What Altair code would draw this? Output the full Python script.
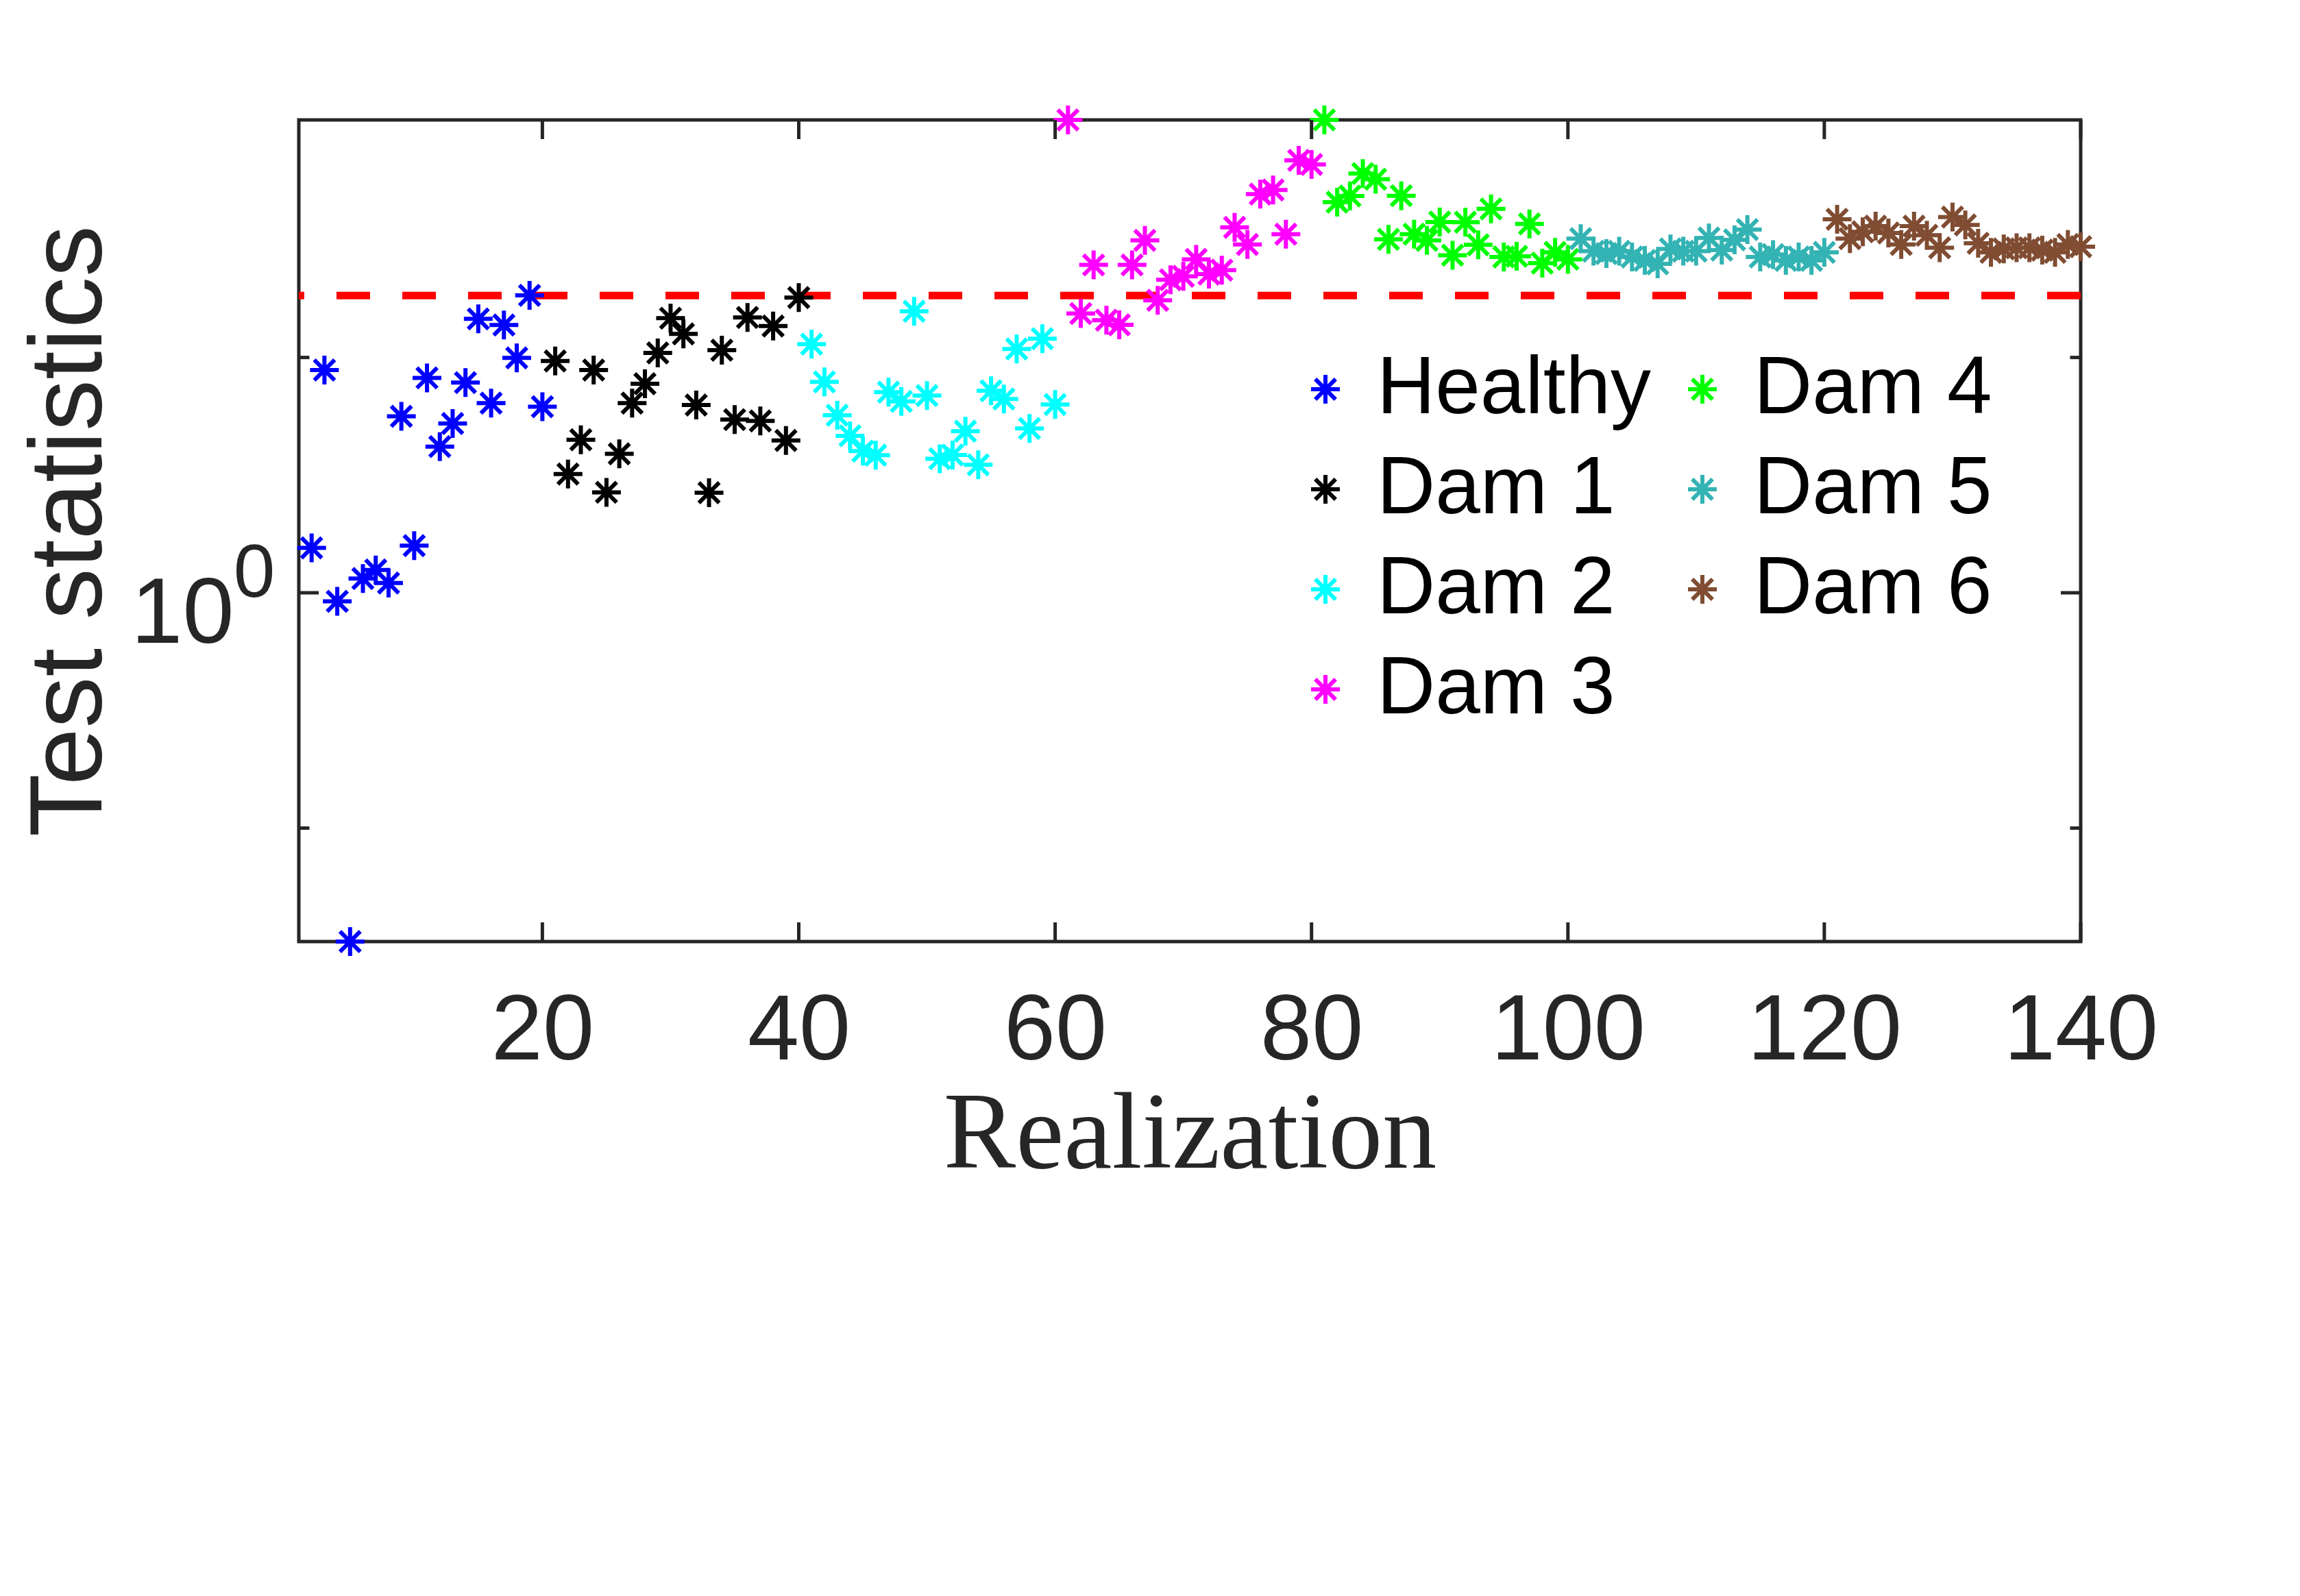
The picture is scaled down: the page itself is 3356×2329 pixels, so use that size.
import altair as alt
import pandas as pd

# ---------------- data ----------------
groups = ["Healthy", "Dam 1", "Dam 2", "Dam 3", "Dam 4", "Dam 5", "Dam 6"]
colors = ["#0000FF", "#000000", "#00FFFF", "#FF00FF", "#00FF00", "#33B3B3", "#804D33"]
starts = [2, 21, 41, 61, 81, 101, 121]

healthy = [1.246, 2.974, 0.959, 0.1815, 1.072, 1.118, 1.049, 2.372, 1.259, 2.862,
           2.045, 2.289, 2.796, 3.819, 2.529, 3.707, 3.155, 4.286, 2.486]
dam1 = [3.109, 1.788, 2.114, 2.974, 1.635, 1.973, 2.529, 2.781, 3.233, 3.832,
        3.548, 2.506, 1.632, 3.278, 2.333, 3.846, 2.318, 3.689, 2.107, 4.238]
dam2 = [3.375, 2.806, 2.383, 2.156, 2.000, 1.960, 2.669, 2.551, 3.963, 2.625,
        1.927, 1.962, 2.204, 1.870, 2.686, 2.580, 3.296, 2.234, 3.466, 2.512]
dam3 = [10.11, 3.920, 4.973, 3.794, 3.710, 4.973, 5.610, 4.182, 4.624, 4.702,
        5.112, 4.755, 4.846, 5.979, 5.498, 7.033, 7.175, 5.781, 8.296, 8.130]
dam4 = [10.11, 6.761, 6.969, 7.777, 7.563, 5.636, 6.977, 5.781, 5.610, 6.135,
        5.216, 6.128, 5.486, 6.541, 5.170, 5.188, 6.080, 5.017, 5.288, 5.112]
dam5 = [5.655, 5.318, 5.259, 5.318, 5.170, 5.085, 5.000, 5.378, 5.318, 5.318,
        5.674, 5.348, 5.623, 5.912, 5.170, 5.230, 5.085, 5.170, 5.085, 5.288]
dam6 = [6.218, 5.655, 5.848, 6.014, 5.815, 5.498, 6.014, 5.750, 5.408, 6.287,
        6.048, 5.529, 5.288, 5.378, 5.408, 5.408, 5.348, 5.288, 5.498, 5.438]

threshold = [4.28]
x_ticks = [20, 40, 60, 80, 100, 120, 140]
y_major_ticks = [1.0]
y_minor_ticks = [10 ** -0.5, 10 ** 0.5]
sup_label = ["0"]

# ---------------- build tables ----------------
series = [healthy, dam1, dam2, dam3, dam4, dam5, dam6]
rows = []
for g, s0, vals in zip(groups, starts, series):
    for i, v in enumerate(vals):
        rows.append({"realization": s0 + i, "value": v, "group": g})
df = pd.DataFrame(rows)

all_vals = [v for s in series for v in s]
y_lo, y_hi = min(all_vals), max(all_vals)

W, H = 2600, 1199
TXT = "#262626"
ASTER = "M-1,0L1,0M0,-1L0,1M-0.7071,-0.7071L0.7071,0.7071M-0.7071,0.7071L0.7071,-0.7071"

xscale = alt.Scale(domain=[1, 140], nice=False, zero=False)
yscale = alt.Scale(type="log", domain=[y_lo, y_hi], nice=False)

xaxis = alt.Axis(values=x_ticks, title="Realization", ticks=False, tickSize=0,
                 domain=False, grid=False, labelFont="Liberation Sans",
                 labelFontSize=135, labelColor=TXT, labelBaseline="alphabetic",
                 labelPadding=171, labelFlush=False, labelOverlap=False, labelLimit=0,
                 titleFont="Liberation Serif", titleFontSize=158,
                 titleFontWeight="normal", titleColor=TXT,
                 titleBaseline="alphabetic", titleX=W / 2, titleY=329)
yaxis = alt.Axis(values=[10 ** -0.5, 1.0, 10 ** 0.5],
                 labelExpr="datum.value == 1 ? '10' : ''",
                 ticks=False, tickSize=0, domain=False, grid=False,
                 labelFont="Liberation Sans", labelFontSize=135, labelColor=TXT,
                 labelBaseline="alphabetic", labelOffset=72, labelPadding=95,
                 labelOverlap=False, labelLimit=0, title="Test statistics",
                 titleFont="Liberation Sans", titleFontSize=150,
                 titleFontWeight="normal", titleColor=TXT,
                 titleBaseline="alphabetic", titleAlign="center",
                 titleAngle=270, titleX=-289, titleY=H / 2)

points = alt.Chart(df).mark_point(
    shape=ASTER, size=1764, strokeWidth=6, filled=False, opacity=1
).encode(
    x=alt.X("realization:Q", scale=xscale, axis=xaxis),
    y=alt.Y("value:Q", scale=yscale, axis=yaxis),
    color=alt.Color("group:N",
                    scale=alt.Scale(domain=groups, range=colors),
                    legend=alt.Legend(title=None, orient="none", legendX=1439, legendY=334,
                                      columns=2, symbolType=ASTER, symbolSize=1764,
                                      symbolStrokeWidth=6, labelFont="Liberation Sans",
                                      labelFontSize=118, labelColor="#000000",
                                      labelOffset=16, rowPadding=28, columnPadding=15,
                                      padding=0, labelLimit=0)),
)

thr = alt.Chart(pd.DataFrame({"t": threshold})).mark_rule(
    color="#FF0000", strokeWidth=11, strokeDash=[49, 47]
).encode(y=alt.Y("t:Q", scale=yscale, axis=yaxis))

df_xt = pd.DataFrame({"xt": x_ticks})
tick_style = dict(color=TXT, strokeWidth=5)
xt_bottom = alt.Chart(df_xt).mark_rule(**tick_style).encode(
    x=alt.X("xt:Q", scale=xscale, axis=xaxis), y=alt.value(H), y2=alt.value(H - 28))
xt_top = alt.Chart(df_xt).mark_rule(**tick_style).encode(
    x=alt.X("xt:Q", scale=xscale, axis=xaxis), y=alt.value(0), y2=alt.value(28))

df_ymaj = pd.DataFrame({"ym": y_major_ticks})
df_ymin = pd.DataFrame({"yn": y_minor_ticks})
ymaj_l = alt.Chart(df_ymaj).mark_rule(**tick_style).encode(
    y=alt.Y("ym:Q", scale=yscale, axis=yaxis), x=alt.value(0), x2=alt.value(29))
ymaj_r = alt.Chart(df_ymaj).mark_rule(**tick_style).encode(
    y=alt.Y("ym:Q", scale=yscale, axis=yaxis), x=alt.value(W), x2=alt.value(W - 29))
ymin_l = alt.Chart(df_ymin).mark_rule(**tick_style).encode(
    y=alt.Y("yn:Q", scale=yscale, axis=yaxis), x=alt.value(0), x2=alt.value(15.5))
ymin_r = alt.Chart(df_ymin).mark_rule(**tick_style).encode(
    y=alt.Y("yn:Q", scale=yscale, axis=yaxis), x=alt.value(W), x2=alt.value(W - 15.5))

sup = alt.Chart(pd.DataFrame({"v": y_major_ticks, "s": sup_label})).mark_text(
    font="Liberation Sans", fontSize=109, color=TXT, align="center",
    baseline="alphabetic", dy=6
).encode(y=alt.Y("v:Q", scale=yscale, axis=yaxis), x=alt.value(-65), text="s:N")

chart = alt.layer(
    thr, points, xt_bottom, xt_top, ymaj_l, ymaj_r, ymin_l, ymin_r, sup
).properties(
    width=W, height=H,
    autosize=alt.AutoSizeParams(type="none"),
    padding={"left": 428, "top": 167, "right": 300, "bottom": 900},
    background="white",
).configure_view(stroke=TXT, strokeWidth=5)

chart.save("out.html", embed_options={"renderer": "svg", "actions": False})
